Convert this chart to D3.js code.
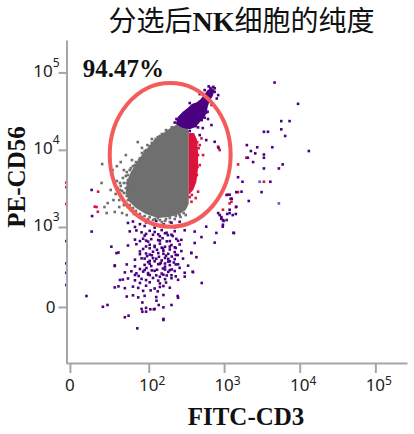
<!DOCTYPE html>
<html>
<head>
<meta charset="utf-8">
<script src="https://cdn.jsdelivr.net/npm/d3@7"></script>
<style>
  body { margin: 0; background: #fff; }
  .axis .domain, .axis line { stroke: #a6a6a6; stroke-width: 2; }
  .tick-label { font-family: "Noto Sans", sans-serif; font-size: 17px; fill: #222; }
</style>
</head>
<body>
<script>
// ---- données (valeurs de fluorescence, échelle biexponentielle) ----
const xMajorTicks = [0, 1e2, 1e3, 1e4, 1e5]
const xMinorTicks = [20, 30, 40, 50, 60, 70, 80, 90,
  200, 300, 400, 500, 600, 700, 800, 900,
  2000, 3000, 4000, 5000, 6000, 7000, 8000, 9000,
  20000, 30000, 40000, 50000, 60000, 70000, 80000, 90000, 200000]
const yMajorTicks = [0, 1e3, 1e4, 1e5]
const yMinorTicks = [-400, -300, -200, -100, -90, -80, -70, -60, -50, -40, -30, -20, -10,
  10, 20, 30, 40, 50, 60, 70, 80, 90,
  100, 200, 300, 400, 500, 600, 700, 800, 900,
  2000, 3000, 4000, 5000, 6000, 7000, 8000, 9000,
  20000, 30000, 40000, 50000, 60000, 70000, 80000, 90000, 200000]

const title = '分选后NK细胞的纯度'
const xLabel = 'FITC-CD3'
const yLabel = 'PE-CD56'
const gatePercent = '94.47%'

// ellipse du gate : bornes gauche/droite (FITC) et haut/bas (PE)
const gateX = [28, 1220]
const gateY = [1010, 73000]

// zone dense grise (contour)
const grayCore = [[275, 22800], [203, 19700], [150, 16000], [110, 12200], [86, 9360], [69, 6950],
  [57, 5160], [50, 3840], [48.5, 2860], [53, 2180], [67, 1770], [91, 1480], [132, 1310],
  [191, 1350], [258, 1480], [311, 1666], [340, 1990], [340, 17000], [321, 20900]]

// bande rouge au bord droit
const redBand = [[340, 16500], [400, 16500], [440, 13370], [455, 8560], [450, 5480],
  [430, 3840], [390, 3030], [340, 2610]]

// traînée violette en haut
const purpleStreak = [[229, 21500], [243, 26500], [284, 31000], [330, 34600], [374, 39000],
  [435, 41300], [491, 45200], [553, 52500], [605, 59100], [685, 62700], [750, 59100],
  [706, 49400], [644, 42600], [605, 35600], [590, 29800], [536, 25800], [476, 22800],
  [421, 19700], [351, 18500], [284, 19100]]

const grayDots = [
  [150, 16000], [120, 13000], [110, 12300], [93, 9930], [81, 9100], [76, 7800], [67, 6950],
  [61, 6150], [55, 5480], [50, 5160], [48.5, 4590], [44, 4330], [52, 4077], [45.5, 3730],
  [41, 3420], [48.5, 3200], [40, 3030], [45.5, 2770], [50, 2540], [43, 2390], [52, 2244],
  [47, 2115], [55, 1930], [61, 1770], [52, 1820], [67, 1620], [76, 1480], [88, 1390],
  [103, 1350], [120, 1270], [141, 1233], [170, 1270], [191, 1310], [229, 1390], [258, 1432],
  [292, 1520], [96, 11520], [132, 14600], [170, 18000], [203, 19600], [65, 4720], [55, 3030],
  [71, 1432], [37, 3200], [31, 4720], [48.5, 8560], [21, 6550], [20.5, 3730], [23, 1820],
  [25, 1520], [26, 2050], [33.5, 1570], [43, 1520], [50, 1432], [71, 12600], [59, 7370],
  [36, 3960], [39, 2244], [150, 1160], [191, 1160],
  [182, 17500], [141, 15100], [124, 13800], [103, 11200], [88, 9650], [86, 8560], [74, 7370],
  [65, 6350], [71, 6550], [57, 5800], [61, 5160], [52, 4720], [57, 4330], [50, 3730],
  [53, 3420], [43, 2940], [50, 2770], [55, 2470], [45.5, 1930], [57, 1666], [63, 1480],
  [81, 1350], [98, 1270], [114, 1233], [132, 1310], [165, 1200], [222, 1270], [265, 1350],
  [311, 1432], [40, 3730], [34.5, 2690], [32, 2244], [29, 3030], [39, 1820], [31, 5480],
  [36, 6150], [41, 6950], [45.5, 5480], [81, 10600], [110, 13800]]

const redDots = [
  [502, 14050], [527, 8560], [452, 8560], [476, 6350], [388, 3510], [370, 2130], [452, 2880],
  [832, 11000], [875, 9930], [16.5, 1820], [17.5, 1580], [17.7, 2880], [15.2, 1840],
  [1970, 7900], [1530, 6480], [3360, 3870], [1530, 2840], [1120, 2630], [1183, 2030],
  [1430, 1810], [965, 1680], [1250, 2130], [421, 2380], [476, 11520], [435, 4720], [374, 2610],
  [440, 12500], [460, 10500], [430, 7000], [445, 6000], [405, 4300], [350, 2450],
  [-2, 3780], [-2, 3290], [-2, 1990]]

const blueDots = [[2950, 3870], [5300, 2030]]

const purpleDots = [
  // autour de la traînée
  [222, 22500], [234, 25000], [750, 56000], [680, 59100], [612, 25000], [680, 20900],
  [452, 19500], [580, 13370], [750, 12700], [580, 30500], [522, 19100], [476, 15500],
  [845, 10600], [408, 30000], [553, 26000], [685, 38000], [351, 17500], [800, 46000],
  [284, 27400], [351, 40200], [476, 52500], [553, 59100], [625, 66000], [750, 62500],
  [835, 50900], [706, 39000], [605, 31000], [506, 24220], [421, 20300], [270, 23000],
  [320, 31500], [380, 35000], [520, 42000], [600, 52000], [660, 63000], [720, 65000],
  [500, 33500], [410, 22500], [300, 21500],
  // à droite
  [4650, 74000], [9500, 39300], [5700, 23500], [7340, 23500], [3360, 17100], [3800, 17100],
  [5700, 18400], [6420, 15100], [2000, 11520], [2740, 10800], [4340, 10800], [13200, 9650],
  [2260, 9650], [2580, 9000], [3360, 8700], [3360, 7900], [2060, 7900], [2420, 6950],
  [5950, 6480], [3360, 5750], [5300, 5750], [1530, 4430], [1750, 3870], [4090, 3870],
  [3130, 2840], [1450, 2840], [1183, 2630], [1220, 2330], [1260, 2330], [2120, 2180],
  [1183, 1680], [1100, 1480], [1430, 1480], [920, 1280], [985, 1200], [965, 1070],
  [1350, 830], [1080, 2610], [1300, 1432], [875, 1432], [965, 1233], [1700, 2880],
  // à gauche et bord
  [13, 3030], [-2, 650], [-2, 316], [-2, 224], [-2, 131],
  // dispersés sous le gate
  [9.6, 62], [13, 870], [13.3, 1390], [21.6, 1], [25.8, 11], [29.7, 546], [35.6, 445],
  [33.5, 289], [40, 167], [47, -58], [53, -49], [70, -127], [80, -11], [92, -5], [120, -11],
  [157, -68], [201, 11], [243, 62], [301, 193], [384, 234], [430, 390], [506, 145], [368, 445],
  [408, 613], [502, 735], [580, 1010], [750, 620], [790, 835], [960, 1010], [1080, 1233],
  [1183, 1520], [1450, 1840], [1330, 840], [920, 1350], [835, 1520], [82, -26], [92, -26],
  [105, -13], [117, -13], [136, 11], [157, -2], [157, -74], [82, 25], [127, 35],
  // population CD56 faible
  [52, 1130], [61, 1180], [76, 1090], [92, 1150], [108, 1110], [126, 1200], [159, 1080],
  [201, 1140], [258, 1170], [319, 1100],
  [55, 875], [68, 900], [80, 850], [103, 890], [120, 860], [149, 910], [173, 840], [222, 880],
  [301, 905], [408, 870],
  [65, 680], [84, 700], [92, 660], [108, 690], [134, 670], [153, 710], [191, 650], [233, 695],
  [272, 675],
  [52, 567], [68, 590], [92, 550], [103, 580], [120, 560], [141, 600], [165, 545], [201, 575],
  [258, 585],
  [38, 453], [76, 470], [92, 440], [114, 465], [134, 445], [157, 480], [182, 435], [222, 460],
  [272, 475], [368, 450],
  [65, 359], [80, 375], [103, 345], [126, 370], [149, 350], [165, 380], [191, 340], [222, 365],
  [286, 372],
  [33.5, 294], [50, 305], [65, 285], [88, 300], [108, 288], [141, 310], [165, 282], [191, 298],
  [246, 306], [334, 292],
  [47, 228], [58, 238], [68, 220], [84, 235], [98, 222], [120, 242], [149, 218], [182, 232],
  [222, 240], [301, 225], [388, 230],
  [44, 170], [52, 178], [65, 164], [80, 175], [92, 166], [114, 182], [134, 162], [165, 173],
  [201, 180], [246, 168],
  [33.5, 115], [38, 122], [47, 110], [61, 120], [72, 112], [92, 126], [120, 108], [141, 118],
  [157, 124], [191, 113],
  [50, 59], [61, 66], [72, 54], [88, 63], [126, 56], [157, 68], [246, 52],
  [88, 770], [114, 790], [141, 755], [180, 780], [209, 760],
  [84, 508], [103, 520], [129, 495], [155, 515], [191, 500], [229, 525],
  [95, 403], [110, 415], [137, 395], [170, 410], [203, 398], [243, 418],
  [98, 330], [120, 340], [145, 322], [182, 336], [216, 326],
  [76, 259], [93, 268], [129, 252], [155, 264], [203, 255], [258, 270],
  [73, 198], [103, 205], [141, 192], [174, 202], [229, 195],
  [92, 810], [134, 800], [165, 825], [201, 790],
  [76, 650], [98, 640], [141, 660], [174, 645], [246, 655],
  [120, 540], [149, 530], [191, 548], [222, 535],
  [76, 430], [103, 425], [157, 435], [229, 420],
  [88, 372], [114, 378], [182, 368],
  [103, 312], [134, 308], [165, 315], [229, 305],
  [88, 250], [110, 246], [165, 254], [191, 248],
  [65, 206], [98, 210], [126, 203], [157, 208], [201, 204],
  [76, 145], [103, 150], [141, 142], [170, 148],
  [84, 93], [106, 96], [132, 90],
  [65, 1000], [88, 1030], [120, 980], [165, 1010], [222, 990]]

// ---- mise en page ----
const WIDTH = 414
const HEIGHT = 434
const X_C = 18.3
const Y_C = 187
const xDomain = [-2.2, 262144]
const yDomain = [-477, 262144]

// échelle arcsinh (approximation de l'échelle biexponentielle FlowJo)
function asinhScale(c, domain, range) {
  const lin = d3.scaleLinear()
    .domain(domain.map(v => Math.asinh(v / c)))
    .range(range)
  const s = v => lin(Math.asinh(v / c))
  s.domain = () => domain
  s.range = () => lin.range()
  s.copy = () => asinhScale(c, domain, range)
  return s
}

const x = asinhScale(X_C, xDomain, [66, 407])
const y = asinhScale(Y_C, yDomain, [363, 40])

const svg = d3.select('body')
  .append('svg')
  .attr('width', WIDTH)
  .attr('height', HEIGHT)

// points
const DOT = 2.6
const plot = svg.append('g')

const area = d3.line().x(d => x(d[0])).y(d => y(d[1])).curve(d3.curveLinearClosed)

function drawDots(data, color) {
  plot.append('g')
    .selectAll('rect')
    .data(data)
    .enter()
    .append('rect')
    .attr('x', d => x(d[0]) - DOT / 2)
    .attr('y', d => y(d[1]) - DOT / 2)
    .attr('width', DOT)
    .attr('height', DOT)
    .attr('fill', color)
}

plot.append('path').attr('d', area(grayCore)).attr('fill', '#6f6f6f')
drawDots(grayDots, '#6f6f6f')
plot.append('path').attr('d', area(redBand)).attr('fill', '#dc143c')
drawDots(redDots, '#dc143c')
plot.append('path').attr('d', area(purpleStreak)).attr('fill', '#4b0082')
drawDots(purpleDots, '#4b0082')
drawDots(blueDots, '#4169c8')

// gate
const gx0 = x(gateX[0]), gx1 = x(gateX[1])
const gy0 = y(gateY[0]), gy1 = y(gateY[1])
svg.append('ellipse')
  .attr('cx', (gx0 + gx1) / 2)
  .attr('cy', (gy0 + gy1) / 2)
  .attr('rx', (gx1 - gx0) / 2)
  .attr('ry', (gy0 - gy1) / 2)
  .attr('fill', 'none')
  .attr('stroke', '#f45b5b')
  .attr('stroke-width', 4)

// axes
const xAxisG = svg.append('g').attr('class', 'axis').attr('transform', 'translate(0,363)')
xAxisG.call(d3.axisBottom(x).tickValues(xMinorTicks).tickSize(6).tickSizeOuter(0).tickFormat(''))
xAxisG.call(d3.axisBottom(x).tickValues(xMajorTicks).tickSize(10).tickSizeOuter(0).tickFormat(''))

const yAxisG = svg.append('g').attr('class', 'axis').attr('transform', 'translate(66.5,0)')
yAxisG.call(d3.axisLeft(y).tickValues(yMinorTicks).tickSize(5).tickSizeOuter(0).tickFormat(''))
yAxisG.call(d3.axisLeft(y).tickValues(yMajorTicks).tickSize(8).tickSizeOuter(0).tickFormat(''))

// étiquettes des graduations
xMajorTicks.forEach(v => {
  const t = svg.append('text').attr('class', 'tick-label').attr('y', 391)
  if (v === 0) {
    t.attr('x', x(v)).attr('text-anchor', 'middle').text('0')
  } else {
    t.attr('x', x(v) - 9.7)
    t.append('tspan').text('10')
    t.append('tspan').attr('dy', -6).attr('font-size', 12).text(Math.round(Math.log10(v)))
  }
})

yMajorTicks.forEach(v => {
  const t = svg.append('text').attr('class', 'tick-label').attr('text-anchor', 'end')
  if (v === 0) {
    t.attr('x', 55.5).attr('y', y(v) + 6).text('0')
  } else {
    t.attr('x', 59.5).attr('y', y(v) + 4.5)
    t.append('tspan').text('10')
    t.append('tspan').attr('dy', -10).attr('font-size', 12).text(Math.round(Math.log10(v)))
  }
})

// titres
const titleText = svg.append('text')
  .attr('x', 241.5)
  .attr('y', 30.5)
  .attr('text-anchor', 'middle')
  .attr('font-family', '"Noto Sans CJK SC", sans-serif')
  .attr('font-size', 28)
  .attr('fill', '#111')
titleText.append('tspan').text(title.slice(0, 3))
titleText.append('tspan')
  .attr('font-family', '"Liberation Serif", serif')
  .attr('font-weight', 'bold')
  .text(title.slice(3, 5))
titleText.append('tspan').text(title.slice(5))

svg.append('text')
  .attr('x', 82.7)
  .attr('y', 76.7)
  .attr('font-family', '"Liberation Serif", serif')
  .attr('font-weight', 'bold')
  .attr('font-size', 25)
  .attr('fill', '#111')
  .text(gatePercent)

svg.append('text')
  .attr('x', 246)
  .attr('y', 425)
  .attr('text-anchor', 'middle')
  .attr('font-family', '"Liberation Serif", serif')
  .attr('font-weight', 'bold')
  .attr('font-size', 25)
  .attr('fill', '#111')
  .text(xLabel)

svg.append('text')
  .attr('transform', 'translate(25,177) rotate(-90)')
  .attr('text-anchor', 'middle')
  .attr('font-family', '"Liberation Serif", serif')
  .attr('font-weight', 'bold')
  .attr('font-size', 25)
  .attr('fill', '#111')
  .text(yLabel)
</script>
</body>
</html>
